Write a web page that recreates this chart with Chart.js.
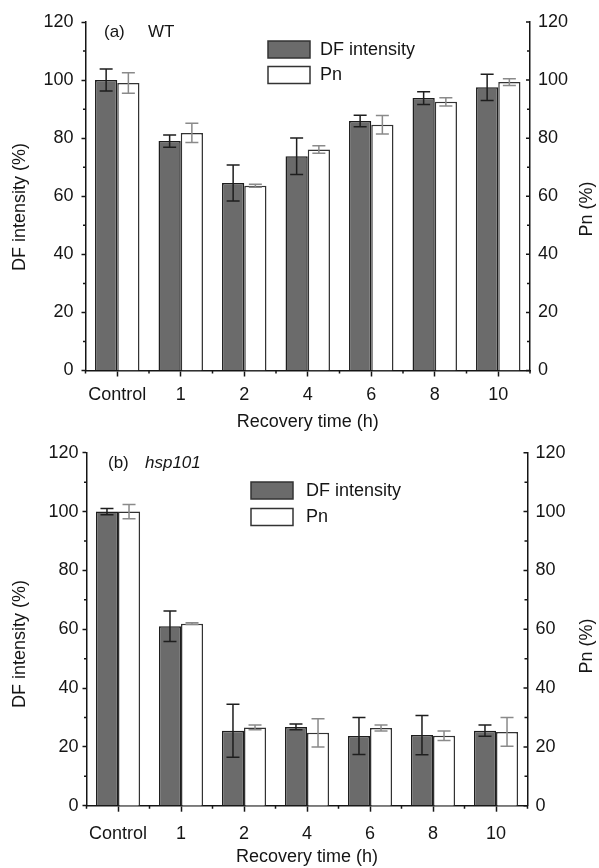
<!DOCTYPE html>
<html>
<head>
<meta charset="utf-8">
<script src="https://cdn.jsdelivr.net/npm/chart.js@4"></script>
<style>
  html, body { margin: 0; padding: 0; background: #fff; }
  canvas { display: block; }
</style>
</head>
<body>
<canvas id="wt" width="599" height="434"></canvas>
<canvas id="hsp" width="599" height="434"></canvas>
<script>
const categories = ['Control', '1', '2', '4', '6', '8', '10']
const yTicks = [0, 20, 40, 60, 80, 100, 120]

// (a) WT
const wtDF = [100, 79, 64.6, 73.8, 85.9, 93.8, 97.5]
const wtDFErr = [3.8, 2.1, 6.2, 6.3, 2.0, 2.2, 4.5]
const wtPn = [99, 81.8, 63.6, 76.1, 84.6, 92.5, 99.3]
const wtPnErr = [3.5, 3.3, 0.5, 1.3, 3.2, 1.4, 1.2]

// (b) hsp101
const hspDF = [100, 61, 25.5, 26.8, 23.7, 24.0, 25.5]
const hspDFErr = [1.1, 5.2, 9.0, 1.0, 6.3, 6.7, 1.9]
const hspPn = [100, 61.9, 26.6, 24.8, 26.4, 23.8, 25.1]
const hspPnErr = [2.4, 0.3, 0.8, 4.8, 1.0, 1.6, 4.9]

const FONT = '"Liberation Sans", Arial, Helvetica, sans-serif'
const INK = '#151515'
const DARK = '#6b6b6b'
Chart.defaults.font.family = FONT
Chart.defaults.color = INK

// error bars, minor ticks, inward right ticks, legend, panel label, y titles
const figure = {
  id: 'figure',
  afterDatasetsDraw(chart) {
    const ctx = chart.ctx
    chart.data.datasets.forEach((ds, i) => {
      const meta = chart.getDatasetMeta(i)
      const scale = chart.scales[meta.yAxisID]
      ctx.save()
      ctx.strokeStyle = ds.errorColor
      ctx.lineWidth = 1.5
      meta.data.forEach((bar, j) => {
        const hi = scale.getPixelForValue(ds.data[j] + ds.errors[j])
        const lo = scale.getPixelForValue(ds.data[j] - ds.errors[j])
        ctx.beginPath()
        ctx.moveTo(bar.x, hi); ctx.lineTo(bar.x, lo)
        ctx.moveTo(bar.x - 6.5, hi); ctx.lineTo(bar.x + 6.5, hi)
        ctx.moveTo(bar.x - 6.5, lo); ctx.lineTo(bar.x + 6.5, lo)
        ctx.stroke()
      })
      ctx.restore()
    })
  },
  afterDraw(chart, args, opts) {
    const ctx = chart.ctx
    const { left, right, bottom } = chart.chartArea
    const y = chart.scales.y, y1 = chart.scales.y1, x = chart.scales.x
    ctx.save()
    ctx.strokeStyle = INK
    ctx.lineWidth = 1.5
    ctx.beginPath()
    for (let v = 10; v < 120; v += 20) {
      const py = y.getPixelForValue(v)
      ctx.moveTo(left - 2.5, py); ctx.lineTo(left, py)
    }
    for (let v = 0; v <= 120; v += 10) {
      const py = y1.getPixelForValue(v)
      ctx.moveTo(right - (v % 20 ? 3 : 4), py); ctx.lineTo(right, py)
    }
    for (let i = 0; i <= categories.length; i++) {
      const px = i === 0 ? left : i === categories.length ? right
        : (x.getPixelForValue(i - 1) + x.getPixelForValue(i)) / 2
      ctx.moveTo(px, bottom); ctx.lineTo(px, bottom + 3)
    }
    ctx.stroke()

    // legend
    const lg = opts.legend
    chart.data.datasets.forEach((ds, i) => {
      const top = lg.y + i * lg.rowGap
      ctx.fillStyle = ds.backgroundColor
      ctx.fillRect(lg.x, top, 42, 17)
      ctx.strokeStyle = '#333'
      ctx.lineWidth = 1.5
      ctx.strokeRect(lg.x, top, 42, 17)
      ctx.fillStyle = INK
      ctx.font = '18px ' + FONT
      ctx.textAlign = 'left'
      ctx.textBaseline = 'middle'
      ctx.fillText(ds.label, lg.x + 42 + lg.gap, top + 9)
    })

    // panel label
    ctx.font = '17px ' + FONT
    ctx.fillText(opts.panel[0], opts.panelX[0], opts.panelY)
    ctx.font = (opts.italic ? 'italic ' : '') + '17px ' + FONT
    ctx.fillText(opts.panel[1], opts.panelX[1], opts.panelY)

    // y axis titles, both read bottom to top
    ctx.font = '18px ' + FONT
    ctx.textAlign = 'center'
    const titles = [[opts.yTitle, 20.5, opts.yTitleY], [opts.y1Title, 587, opts.y1TitleY]]
    titles.forEach(([text, tx, ty]) => {
      ctx.save()
      ctx.translate(tx, ty)
      ctx.rotate(-Math.PI / 2)
      ctx.fillText(text, 0, 0)
      ctx.restore()
    })
    ctx.restore()
  }
}

function makeChart(id, df, dfErr, pn, pnErr, lay) {
  const tickFont = { size: 18 }
  return new Chart(document.getElementById(id), {
    type: 'bar',
    data: {
      labels: categories,
      datasets: [
        {
          label: 'DF intensity', data: df, errors: dfErr, yAxisID: 'y',
          backgroundColor: DARK, borderColor: '#1e1e1e', borderWidth: 1.5,
          errorColor: '#1e1e1e'
        },
        {
          label: 'Pn', data: pn, errors: pnErr, yAxisID: 'y1',
          backgroundColor: '#ffffff', borderColor: '#333', borderWidth: 1.5,
          errorColor: '#8a8a8a'
        }
      ]
    },
    options: {
      responsive: false,
      animation: false,
      events: [],
      layout: { padding: { top: lay.top, left: 0, right: 0, bottom: 0 } },
      datasets: { bar: { categoryPercentage: 0.7, barPercentage: 1.0 } },
      plugins: {
        legend: { display: false },
        tooltip: { enabled: false },
        figure: lay.figure
      },
      scales: {
        x: {
          offset: true,
          grid: { display: true, drawOnChartArea: false, offset: false, tickLength: 6, tickColor: INK, tickWidth: 1.5 },
          border: { display: true, color: INK, width: 1.5 },
          ticks: { font: tickFont, color: INK, padding: lay.xPad, maxRotation: 0, autoSkip: false },
          title: { display: true, text: 'Recovery time (h)', font: { size: 18 }, color: INK, padding: { top: 0, bottom: lay.xTitlePad } },
          afterFit: s => { s.height = 434 - lay.bottom }
        },
        y: {
          position: 'left', min: 0, max: 120,
          afterBuildTicks: s => { s.ticks = yTicks.map(v => ({ value: v })) },
          grid: { display: true, drawOnChartArea: false, tickLength: 4, tickColor: INK, tickWidth: 1.5 },
          border: { display: true, color: INK, width: 1.5 },
          ticks: { font: tickFont, color: INK, padding: lay.yPad },
          afterFit: s => { s.width = lay.left }
        },
        y1: {
          position: 'right', min: 0, max: 120,
          afterBuildTicks: s => { s.ticks = yTicks.map(v => ({ value: v })) },
          grid: { display: false, drawTicks: false },
          border: { display: true, color: INK, width: 1.5 },
          ticks: { font: tickFont, color: INK, padding: 8 },
          afterFit: s => { s.width = 599 - lay.right }
        }
      }
    },
    plugins: [figure]
  })
}

makeChart('wt', wtDF, wtDFErr, wtPn, wtPnErr, {
  top: 22, bottom: 370.5, left: 85.5, right: 530, xPad: 8, xTitlePad: 1.5, yPad: 8,
  figure: {
    legend: { x: 268, y: 41, rowGap: 25.5, gap: 10 },
    panel: ['(a)', 'WT'], panelX: [104, 148], panelY: 32, italic: false,
    yTitle: 'DF intensity (%)', yTitleY: 207, y1Title: 'Pn (%)', y1TitleY: 209
  }
})

makeChart('hsp', hspDF, hspDFErr, hspPn, hspPnErr, {
  top: 15.3, bottom: 371.7, left: 86.5, right: 527.5, xPad: 12, xTitlePad: 0, yPad: 4,
  figure: {
    legend: { x: 251, y: 48, rowGap: 26.5, gap: 13 },
    panel: ['(b)', 'hsp101'], panelX: [108, 145], panelY: 29.5, italic: true,
    yTitle: 'DF intensity (%)', yTitleY: 210, y1Title: 'Pn (%)', y1TitleY: 212
  }
})
</script>
</body>
</html>
